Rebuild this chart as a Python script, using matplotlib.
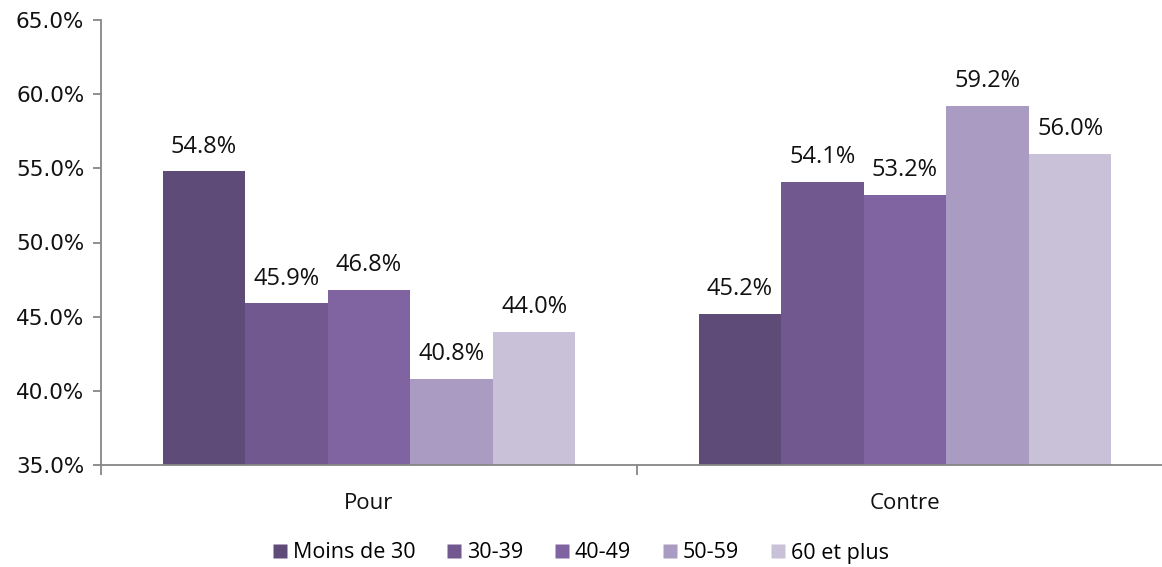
import matplotlib.pyplot as plt
import numpy as np
from matplotlib.lines import Line2D
from matplotlib.ticker import FixedLocator

# Data
categories = ["Pour", "Contre"]
series_names = ["Moins de 30", "30-39", "40-49", "50-59", "60 et plus"]
values = {
    "Moins de 30": [54.8, 45.2],
    "30-39": [45.9, 54.1],
    "40-49": [46.8, 53.2],
    "50-59": [40.8, 59.2],
    "60 et plus": [44.0, 56.0],
}
colors = ["#5F4B78", "#71598F", "#8064A2", "#A99BC1", "#C8C1D8"]

label_font = ["Open Sans", "DejaVu Sans"]

fig = plt.figure(figsize=(11.62, 5.67), dpi=100)
ax = fig.add_axes([101 / 1162, 1 - 465 / 567, 1 - 101 / 1162, (465 - 20) / 567])

x = np.arange(len(categories))
w = 0.154
n = len(series_names)
for i, name in enumerate(series_names):
    pos = x + (i - (n - 1) / 2) * w
    ax.bar(pos, values[name], w, color=colors[i], edgecolor="none", zorder=2)
    for xp, v in zip(pos, values[name]):
        ax.annotate(f"{v:.1f}%", (xp, v), xytext=(0, 13.5),
                    textcoords="offset points", ha="center", va="baseline",
                    fontsize=17, family=label_font, color="#111111")

ax.set_ylim(35, 65)
ax.set_xlim(-0.5, 0.5 + (1162 - 637) / 536)
ticks = np.arange(35, 66, 5)
ax.set_yticks(ticks)
ax.set_yticklabels([f"{t:.1f}%" for t in ticks],
                   fontsize=15.5, family="DejaVu Sans", color="#111111")

ax.set_xticks(x)
ax.set_xticklabels(categories, fontsize=16, family=label_font, color="#111111")
ax.tick_params(axis="x", which="major", length=0, pad=20)
ax.xaxis.set_minor_locator(FixedLocator([-0.5, 0.5, 1.5]))
ax.tick_params(axis="x", which="minor", length=7, width=1.3, color="#868686")
ax.tick_params(axis="y", length=6, width=1.3, color="#868686", pad=6)

for s in ["top", "right"]:
    ax.spines[s].set_visible(False)
for s in ["left", "bottom"]:
    ax.spines[s].set_color("#868686")
    ax.spines[s].set_linewidth(1.3)

handles = [Line2D([], [], marker="s", linestyle="none", markersize=9.5,
                  markerfacecolor=c, markeredgecolor="none") for c in colors]
fig.legend(handles, series_names, loc="center", ncol=5,
           bbox_to_anchor=(581 / 1162, 1 - 553 / 567), frameon=False,
           prop={"family": label_font, "size": 15.5},
           handlelength=0.6, handletextpad=0.3, columnspacing=1.5)

fig.savefig("out.png", dpi=100)
